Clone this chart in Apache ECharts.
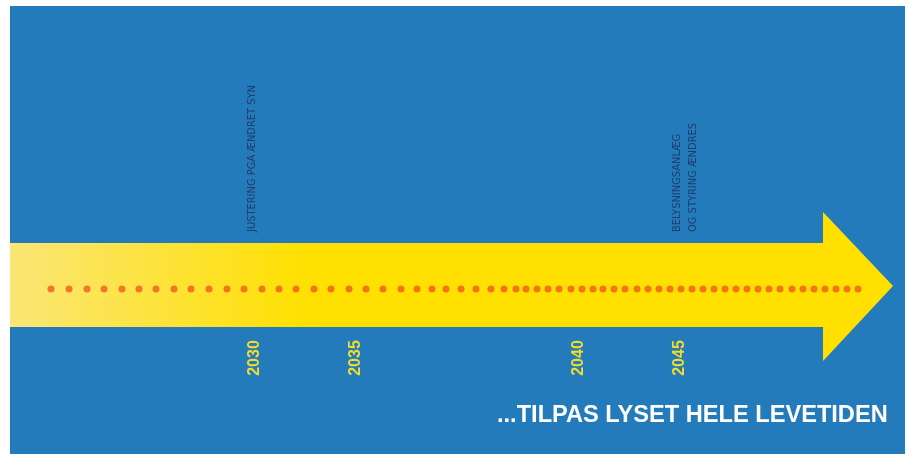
<!DOCTYPE html>
<html>
<head>
<meta charset="utf-8">
<script src="https://cdn.jsdelivr.net/npm/echarts@6/dist/echarts.min.js"></script>
<style>html,body{margin:0;padding:0;background:#fff}#c{width:910px;height:459px}</style>
</head>
<body>
<div id="c"></div>
<script>
// Timeline dots (horizontal positions along the arrow)
const dotX = [51, 69, 87, 104, 122, 139, 156, 174, 191, 209, 227, 244, 262, 279, 296, 314, 331, 349, 366, 383, 401, 417, 432, 446, 461, 476, 491, 504, 516, 526, 537, 548, 559, 571, 582, 593, 603, 614, 625, 637, 648, 659, 670, 681, 692, 703, 714, 725, 736, 747, 758, 769, 780, 792, 803, 814, 825, 836, 847, 858];
const dotLevel = 289;

// Year labels and their positions on the timeline
const yearLabels = ['2030', '2035', '2040', '2045'];
const yearX = [255, 356, 579, 680];
const yearLevel = 358;

// Annotation notes and their positions
const noteTexts = ['JUSTERING PGA ÆNDRET SYN', 'BELYSNINGSANLÆG\nOG STYRING ÆNDRES'];
const noteX = [252, 685];
const noteBase = 232;

// Arrow outline values: [shaftStart, headStart, tip]
const arrowX = [10, 823, 893];
// [bandTop, bandBottom, headTop, headBottom, tipLevel]
const arrowY = [243, 327, 212, 361, 286];

const titleText = '...TILPAS LYSET HELE LEVETIDEN';

const chart = echarts.init(document.getElementById('c'), null, {renderer: 'canvas'});

const option = {
  animation: false,
  backgroundColor: '#ffffff',
  title: {
    text: titleText,
    left: 497, top: 403, padding: 0,
    textStyle: {color: '#ffffff', fontSize: 23.6, fontWeight: 'bold', fontFamily: 'Liberation Sans'}
  },
  grid: {left: 10, top: 6, right: 5, bottom: 5, show: true, backgroundColor: '#247bbb', borderWidth: 0},
  xAxis: {type: 'value', min: 10, max: 905, show: false},
  yAxis: {type: 'value', min: 6, max: 454, inverse: true, show: false},
  series: [
    {
      type: 'custom',
      silent: true,
      data: [[arrowX[0], arrowX[1], arrowX[2], arrowY[0], arrowY[1], arrowY[2], arrowY[3], arrowY[4]]],
      renderItem: function (params, api) {
        const s = api.value(0), h = api.value(1), t = api.value(2);
        const bt = api.value(3), bb = api.value(4), ht = api.value(5), hb = api.value(6), ty = api.value(7);
        const pts = [
          api.coord([s, bt]), api.coord([h, bt]), api.coord([h, ht]), api.coord([t, ty]),
          api.coord([h, hb]), api.coord([h, bb]), api.coord([s, bb])
        ];
        return {
          type: 'polygon',
          shape: {points: pts},
          style: {
            fill: new echarts.graphic.LinearGradient(0, 0, 1, 0, [
              {offset: 0, color: '#fbe676'},
              {offset: 0.34, color: '#ffe000'},
              {offset: 1, color: '#ffe000'}
            ])
          }
        };
      },
      z: 1
    },
    {
      type: 'scatter',
      data: dotX.map(x => [x, dotLevel]),
      symbol: 'circle',
      symbolSize: 7,
      itemStyle: {color: '#f25a1c'},
      silent: true,
      z: 3
    },
    {
      type: 'custom',
      silent: true,
      data: yearLabels.map((y, i) => [yearX[i], yearLevel, i]),
      renderItem: function (params, api) {
        const p = api.coord([api.value(0), api.value(1)]);
        return {
          type: 'text',
          x: p[0], y: p[1], rotation: Math.PI / 2,
          style: {
            text: yearLabels[api.value(2)],
            fill: '#f3dc2a',
            font: 'bold 16px "Liberation Sans"',
            align: 'center', verticalAlign: 'middle'
          }
        };
      },
      z: 4
    },
    {
      type: 'custom',
      silent: true,
      data: noteTexts.map((t, i) => [noteX[i], noteBase, i]),
      renderItem: function (params, api) {
        const p = api.coord([api.value(0), api.value(1)]);
        return {
          type: 'text',
          x: p[0], y: p[1], rotation: Math.PI / 2,
          style: {
            text: noteTexts[api.value(2)],
            fill: '#1f3c6b',
            font: '11px "DejaVu Sans Condensed", "Liberation Sans", sans-serif',
            lineHeight: 16.5,
            align: 'left', verticalAlign: 'middle'
          }
        };
      },
      z: 4
    }
  ]
};
chart.setOption(option);
</script>
</body>
</html>
